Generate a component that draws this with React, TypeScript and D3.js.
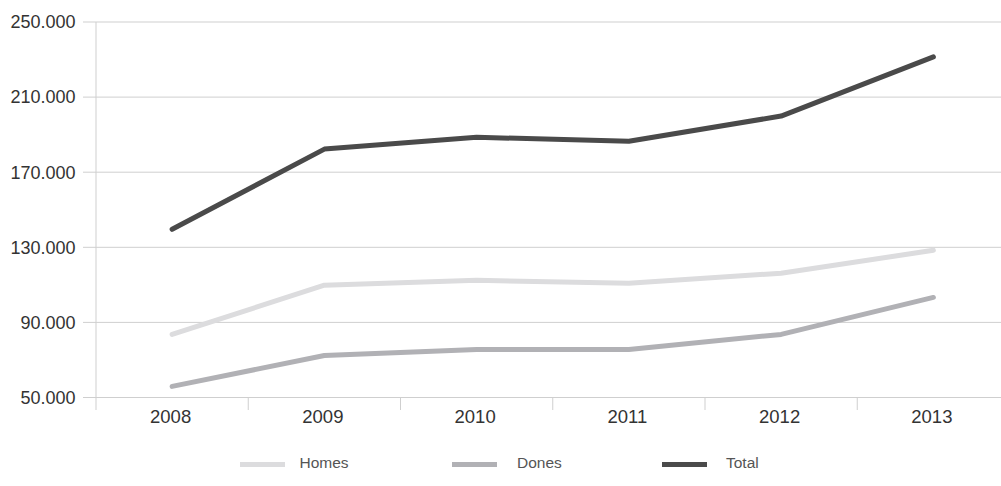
import React, { useEffect } from "react";
import * as d3 from "d3";

const years = ["2008", "2009", "2010", "2011", "2012", "2013"];
const homes = [83.6, 109.8, 112.4, 110.8, 116.2, 128.4];
const dones = [55.9, 72.4, 75.6, 75.6, 83.6, 103.3];
const total = [139.6, 182.3, 188.6, 186.5, 199.9, 231.4];
const yTicks = [50, 90, 130, 170, 210, 250];

const seriesList = [
  { name: "Homes", values: homes, color: "#dcdcde" },
  { name: "Dones", values: dones, color: "#b1b1b5" },
  { name: "Total", values: total, color: "#4a4a4a" },
];

export default function App() {
  useEffect(() => {
    document.body.style.margin = "0";
  }, []);
  const W = 1001;
  const H = 486;
  const x = d3.scaleBand<string>().domain(years).range([96, 1009.5]);
  const y = d3.scaleLinear().domain([50, 250]).range([397.5, 22]);
  const cx = (d: string) => (x(d) as number) + x.bandwidth() / 2;
  const line = d3
    .line<number>()
    .x((_, i) => cx(years[i]))
    .y((v) => y(v));
  const fmt = (v: number) => d3.format(".3f")(v);
  const font = "'Liberation Sans', Arial, Helvetica, sans-serif";
  const legendX = [240, 452, 662];
  const legendTextX = [299.5, 517, 726];
  return (
    <svg width={W} height={H} style={{ display: "block" }} fontFamily={font}>
      {yTicks.map((t) => (
        <g key={t}>
          <line x1={83} x2={W} y1={y(t)} y2={y(t)} stroke="#cfcfcf" strokeWidth={1} />
          <text x={75.5} y={y(t)} dy="0.35em" textAnchor="end" fontSize={18} fill="#333">
            {fmt(t)}
          </text>
        </g>
      ))}
      <line x1={96} x2={96} y1={22} y2={410} stroke="#cfcfcf" strokeWidth={1} />
      {years.slice(1).map((yr) => (
        <line key={yr} x1={x(yr)} x2={x(yr)} y1={397.5} y2={410} stroke="#cfcfcf" strokeWidth={1} />
      ))}
      {years.map((yr) => (
        <text key={yr} x={cx(yr) - 1.5} y={416.5} dy="0.35em" textAnchor="middle" fontSize={18.5} fill="#333">
          {yr}
        </text>
      ))}
      {seriesList.map((s) => (
        <path
          key={s.name}
          d={line(s.values) as string}
          fill="none"
          stroke={s.color}
          strokeWidth={5}
          strokeLinecap="round"
          strokeLinejoin="round"
        />
      ))}
      {seriesList.map((s, i) => (
        <g key={s.name}>
          <rect x={legendX[i]} y={462} width={45} height={5} fill={s.color} />
          <text x={legendTextX[i]} y={463} dy="0.35em" fontSize={15.5} fill="#555">
            {s.name}
          </text>
        </g>
      ))}
    </svg>
  );
}
